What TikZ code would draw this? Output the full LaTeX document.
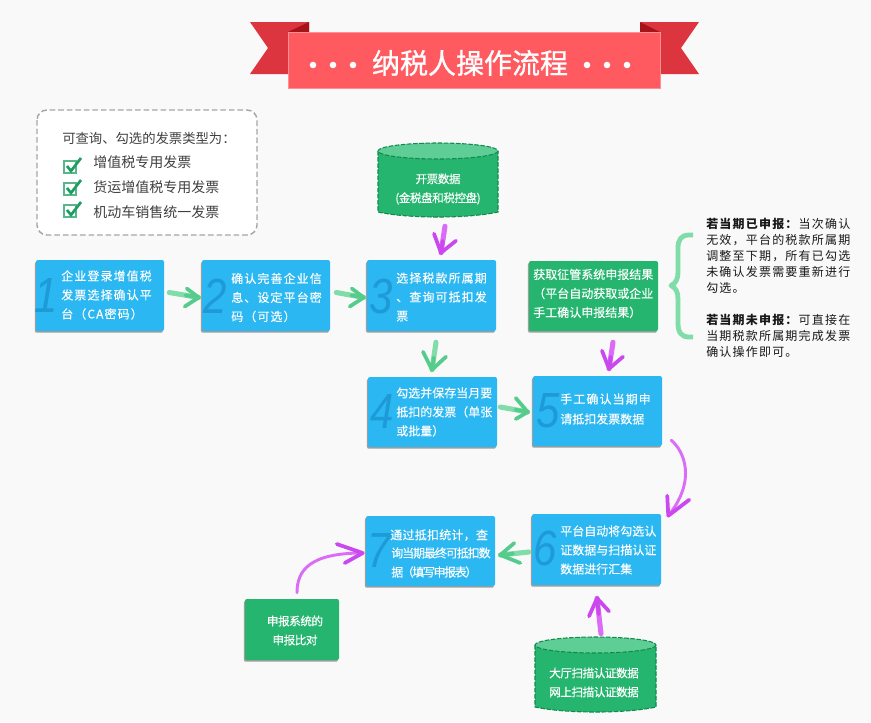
\documentclass[tikz,border=0pt]{standalone}
\usepackage{graphicx}
\usepackage{fontspec}
\setmainfont{Noto Sans CJK SC}
\newfontfamily\numfont{Liberation Sans}
\usetikzlibrary{shadows,calc}
\definecolor{bgc}{HTML}{F9F9F9}
\definecolor{bluebox}{HTML}{2AB7F2}
\definecolor{greenbox}{HTML}{26B56F}
\definecolor{cyltop}{HTML}{5FCE96}
\definecolor{cyldash}{HTML}{128A4C}
\definecolor{numc}{HTML}{1E9AD6}
\definecolor{ribbon}{HTML}{FF5A60}
\definecolor{ribbonedge}{HTML}{FF8F92}
\definecolor{tail}{HTML}{DC3540}
\definecolor{fold}{HTML}{A5141B}
\definecolor{lightg}{HTML}{80DCA8}
\definecolor{deepg}{HTML}{55CC8B}
\definecolor{lightp}{HTML}{DB6CF7}
\definecolor{deepp}{HTML}{CB48F0}
\definecolor{legendtick}{HTML}{1F9E63}
\newcommand\bignum[1]{\scalebox{0.85}[1]{#1}}
\tikzset{
  flowbox/.style 2 args={rectangle, rounded corners=1.5pt, fill=bluebox, minimum width=#1*0.75pt, minimum height=#2*0.75pt, inner sep=0pt,
    general shadow={shadow xshift=-0.8pt, shadow yshift=-1.3pt, fill=black!38}},
  greenflow/.style 2 args={flowbox={#1}{#2}, fill=greenbox},
  txt/.style={text=white, inner sep=0pt, anchor=west, align=left, font=\fontsize{9}{14.25}\selectfont\addfontfeature{LetterSpace=#1,FakeBold=0.15}},
  ctxt/.style={text=white, inner sep=0pt, align=center, font=\fontsize{8.7}{14.25}\selectfont\addfontfeature{LetterSpace=#1,FakeBold=0.15}},
  num/.style={text=numc, inner sep=0pt, font=\numfont\itshape\fontsize{37}{37}\selectfont},
  legend/.style={text=black!75, inner sep=0pt, anchor=west, font=\fontsize{10.5}{12}\selectfont},
  note/.style={text=black!90, inner sep=0pt, anchor=west, align=left, font=\fontsize{9}{12.1}\selectfont\addfontfeature{LetterSpace=10}},
  tick/.style={draw=legendtick, line width=2pt, line join=miter},
  chk/.style={draw=legendtick!75, line width=0.8pt, fill=white},
  gshaft/.style={draw=lightg, line width=3.8pt, line cap=round},
  gbarb/.style={draw=deepg, line width=2.8pt, line cap=round, line join=round},
  pshaft/.style={draw=lightp, line width=3.8pt, line cap=round},
  pbarb/.style={draw=deepp, line width=2.8pt, line cap=round, line join=round},
  pcurve/.style={draw=lightp, line width=2.2pt, line cap=round},
}
% #1 shaft style, #2 barb style, #3 start, #4 tip, #5 #6 barb offsets from tip
\newcommand\handarrow[6]{%
  \draw[#1] #3 -- #4;
  \draw[#2] #4 -- ++#5;
  \draw[#2] #4 -- ++#6;
  \draw[#2] #4 -- ($#4!0.45!#3$);
}
% #1 name #2 x1 #3 x2 #4 ytop #5 ybot(side)
\newcommand\cylnode[5]{%
  \pgfmathsetmacro\xa{#2}\pgfmathsetmacro\xb{#3}\pgfmathsetmacro\ya{#4}\pgfmathsetmacro\yb{#5}
  \pgfmathsetmacro\xm{(#2+#3)/2}\pgfmathsetmacro\rx{(#3-#2)/2}
  \draw[fill=greenbox, draw=cyldash, line width=0.8pt, dash pattern=on 3.4pt off 1.2pt]
    (\xa,\ya) -- (\xa,\yb) .. controls (\xa+30,\yb+6.7) and (\xb-30,\yb+6.7) .. (\xb,\yb) -- (\xb,\ya);
  \draw[fill=cyltop, draw=cyldash, line width=0.8pt, dash pattern=on 3.4pt off 1.2pt]
    (\xm,\ya) ellipse [x radius=\rx, y radius=8];
  \node[inner sep=0pt, minimum width=\rx*1.5pt, minimum height=(\yb+5-\ya+8)*0.75pt] (#1) at (\xm,{(\ya-8+\yb+5)/2}) {};
}
\begin{document}
\begin{tikzpicture}[x=0.75pt,y=-0.75pt]
\path[use as bounding box, fill=bgc] (0,0) rectangle (871,722);

% ribbon
\fill[tail] (250,22) -- (309,22) -- (309,74) -- (250,74) -- (268,48) -- cycle;
\fill[tail] (699,22) -- (640,22) -- (640,74) -- (699,74) -- (681,48) -- cycle;
\fill[fold] (288,32) -- (309,22) -- (309,32) -- cycle;
\fill[fold] (660,32) -- (640,22) -- (640,32) -- cycle;
\node[rectangle, fill=ribbon, draw=ribbonedge, line width=0.5pt, minimum width=279pt, minimum height=42pt, inner sep=0pt] (title) at (474,60) {};
\node[text=white, inner sep=0pt, font=\fontsize{21}{24}\selectfont\addfontfeature{FakeBold=1}] (titletext) at (470,63) {纳税人操作流程};
\foreach \dx in {313,333,353,587,607,627} \fill[white] (\dx,65) circle [radius=3.3];

% legend
\draw[draw=black!35, fill=white, line width=1.1pt, dash pattern=on 4.2pt off 2.2pt, rounded corners=7.5pt] (37,110) rectangle (257,235);
\node[legend, font=\fontsize{10}{12}\selectfont] (lg0) at (62,138) {可查询、勾选的发票类型为：};
\node[legend] (lg1) at (93,162) {增值税专用发票};
\node[legend] (lg2) at (93,187) {货运增值税专用发票};
\node[legend] (lg3) at (93,212) {机动车销售统一发票};
\foreach \yy in {161,183,205}{
  \draw[chk] (64,\yy) rectangle (76,\yy+12);
  \draw[tick] (67,\yy+5) -- (71,\yy+10) -- (81,\yy-3);
}

% flow boxes
\node[flowbox={128}{71}] (b1) at (100,295.5) {};
\node[flowbox={128}{71}] (b2) at (266,295.5) {};
\node[flowbox={129}{71}] (b3) at (431.5,295.5) {};
\node[greenflow={129}{70}] (g1) at (593.5,296) {};
\node[flowbox={129}{70}] (b4) at (432.5,412) {};
\node[flowbox={129}{70}] (b5) at (597.5,411) {};
\node[flowbox={129}{71}] (b6) at (596.5,549.5) {};
\node[flowbox={129}{70}] (b7) at (430.5,551) {};
\node[greenflow={94}{61}] (g2) at (292,629.5) {};

% big numerals
\node[num] (n1) at (46,296) {\bignum{1}};
\node[num] (n2) at (215,296) {\bignum{2}};
\node[num] (n3) at (381,297) {\bignum{3}};
\node[num] (n4) at (382,412) {\bignum{4}};
\node[num] (n5) at (548,411) {\bignum{5}};
\node[num] (n6) at (545,549) {\bignum{6}};
\node[num] (n7) at (379,551) {\bignum{7}};

% box text
\node[txt=9] (t1) at (61,295) {企业登录增值税\\发票选择确认平\\台（CA密码）};
\node[txt=9] (t2) at (231,297.5) {确认完善企业信\\息、设定平台密\\码（可选）};
\node[txt=9] (t3) at (396,297) {选择税款所属期\\、查询可抵扣发\\票};
\node[txt=0] (t4) at (396,412) {勾选并保存当月要\\抵扣的发票（单张\\或批量）};
\node[txt=9] (t5a) at (560,399) {手工确认当期申};
\node[txt=0] (t5b) at (560,419) {请抵扣发票数据};
\node[txt=0] (t6) at (560,550) {平台自动将勾选认\\证数据与扫描认证\\数据进行汇集};
\node[txt=2] (t7a) at (390,535) {通过抵扣统计，查};
\node[txt=-9] (t7b) at (391,553) {询当期最终可抵扣数};
\node[txt=-12] (t7c) at (391,572) {据（填写申报表）};
\node[txt=0] (tg1) at (533,293.5) {获取征管系统申报结果\\（平台自动获取或企业\\手工确认申报结果）};
\node[ctxt=-4] (tg2) at (295,630.5) {申报系统的\\申报比对};

% cylinders
\cylnode{c1}{378}{498}{151}{212}
\cylnode{c2}{535}{656}{645}{707}
\node[ctxt=-4] (tc1) at (438,189) {开票数据\\(金税盘和税控盘)};
\node[ctxt=-4] (tc2) at (594,682.5) {大厅扫描认证数据\\网上扫描认证数据};

% brace
\draw[draw=lightg, line width=3.6pt, line join=round] (693,235) -- (689,235) .. controls (681,235) and (678,240) .. (678,248) -- (678,272) .. controls (678,279) and (676,283) .. (671,285.5) .. controls (676,288) and (678,292) .. (678,299) -- (678,323) .. controls (678,332) and (681,337) .. (689,337) -- (693,337);

% note text
\node[note] (nt1) at (706,256) {\textbf{若当期已申报：}当次确认\\无效，平台的税款所属期\\调整至下期，所有已勾选\\未确认发票需要重新进行\\勾选。};
\node[note] (nt2) at (706,336) {\textbf{若当期未申报：}可直接在\\当期税款所属期完成发票\\确认操作即可。};

% straight connectors
\handarrow{gshaft}{gbarb}{([shift={(5,-3)}]b1.east)}{([shift={(-3,2)}]b2.west)}{(-12,-9)}{(-14,9)}
\handarrow{gshaft}{gbarb}{([shift={(6,-3)}]b2.east)}{([shift={(-3,2)}]b3.west)}{(-12,-9)}{(-14,9)}
\handarrow{gshaft}{gbarb}{([shift={(4.5,11)}]b3.south)}{([shift={(-0.5,-7)}]b4.north)}{(-9,-18)}{(14,-13)}
\handarrow{gshaft}{gbarb}{([shift={(3,-5)}]b4.east)}{([shift={(-5,1)}]b5.west)}{(-12,-14)}{(-12,7)}
\handarrow{gshaft}{gbarb}{([shift={(-3,2.5)}]b6.west)}{([shift={(5,4)}]b7.east)}{(14,-12)}{(20,8)}
\handarrow{pshaft}{pbarb}{([shift={(7,9)}]c1.south)}{([shift={(9.5,-7)}]b3.north)}{(-7,-19)}{(15,-12)}
\handarrow{pshaft}{pbarb}{([shift={(19.5,11)}]g1.south)}{([shift={(11.5,-7)}]b5.north)}{(-7,-18)}{(14,-12)}
\handarrow{pshaft}{pbarb}{([shift={(5.5,-3)}]c2.north)}{([shift={(0.5,13)}]b6.south)}{(-8,18)}{(12,13)}

% curved connectors
\coordinate (cs1) at ([shift={(9,-6)}]b5.south east);
\coordinate (ct1) at ([shift={(7,2)}]b6.north east);
\draw[pcurve] (cs1) .. controls (684,451) and (697,480) .. (ct1);
\draw[pbarb] (ct1) -- ++(-1,-20);
\draw[pbarb] (ct1) -- ++(21,-16);
\coordinate (cs2) at ([shift={(5,-6)}]g2.north);
\coordinate (ct2) at ([shift={(-3,2)}]b7.west);
\draw[pcurve] (cs2) .. controls (297,570) and (310,553) .. (ct2);
\draw[pbarb] (ct2) -- ++(-26,-9);
\draw[pbarb] (ct2) -- ++(-18,10);
\end{tikzpicture}
\end{document}
